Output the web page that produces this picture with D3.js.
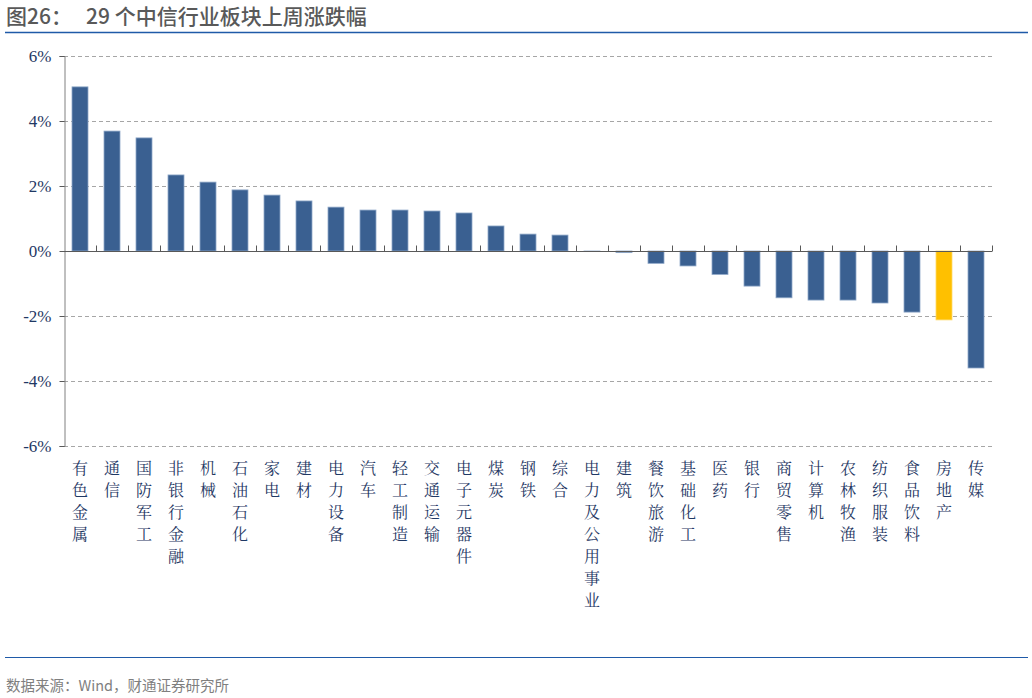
<!DOCTYPE html>
<html><head><meta charset="utf-8">
<script src="https://cdn.jsdelivr.net/npm/d3@7"></script>
<style>body{margin:0;background:#fff}svg{display:block}</style>
</head><body>
<script>
const categories = ["有色金属","通信","国防军工","非银行金融","机械","石油石化","家电","建材","电力设备","汽车","轻工制造","交通运输","电子元器件","煤炭","钢铁","综合","电力及公用事业","建筑","餐饮旅游","基础化工","医药","银行","商贸零售","计算机","农林牧渔","纺织服装","食品饮料","房地产","传媒"];
const values = [5.05,3.69,3.48,2.34,2.12,1.88,1.72,1.54,1.35,1.26,1.26,1.23,1.17,0.77,0.52,0.49,-0.01,-0.05,-0.38,-0.46,-0.72,-1.08,-1.44,-1.51,-1.51,-1.60,-1.88,-2.12,-3.60];
const highlight = ["房地产"];
const yTicks = [-6,-4,-2,0,2,4,6];
const title = "图26：   29 个中信行业板块上周涨跌幅";
const source = "数据来源：Wind，财通证券研究所";

(function(){
const W=1032,H=698;
const svg=d3.select("body").append("svg").attr("width",W).attr("height",H);
const pl=64,pr=992,pt=56,pb=446;
const x=d3.scaleBand().domain(categories).range([pl,pr]).paddingInner(0.5).paddingOuter(0.25);
const y=d3.scaleLinear().domain([-6,6]).range([pb,pt]);

svg.append("text").attr("x",6).attr("y",24).style("font-family","'Noto Sans CJK SC',sans-serif").attr("font-size",21).attr("font-weight",500).attr("fill","#595959").style("white-space","pre").text(title);
svg.append("line").attr("x1",5).attr("x2",1028).attr("y1",32.5).attr("y2",32.5).attr("stroke","#1F5AA8").attr("stroke-width",1.5);

svg.append("g").selectAll("line").data(yTicks.filter(d=>d!==0)).join("line")
 .attr("x1",pl).attr("x2",pr).attr("y1",d=>Math.round(y(d))+0.5).attr("y2",d=>Math.round(y(d))+0.5)
 .attr("stroke","#A6A6A6").attr("stroke-dasharray","4,3");

const ya=svg.append("g").attr("transform",`translate(${pl+0.5},0)`).call(d3.axisLeft(y).tickValues(yTicks).tickSize(5).tickFormat(d=>d+"%"));
ya.attr("font-family",null);
ya.select(".domain").attr("stroke","#808080");
ya.selectAll(".tick line").attr("stroke","#595959");
ya.selectAll("text").style("font-family","'Liberation Serif','DejaVu Serif',serif").style("font-size","17px").attr("fill","#1F3864").attr("dx",-5);

svg.append("g").selectAll("rect").data(categories).join("rect")
 .attr("x",d=>x(d)).attr("width",x.bandwidth())
 .attr("y",(d,i)=>y(Math.max(0,values[i]))).attr("height",(d,i)=>Math.abs(y(values[i])-y(0)))
 .attr("fill",d=>highlight.includes(d)?"#FFC000":"#3A6091")
 .attr("stroke",d=>highlight.includes(d)?"#FFD966":"#8FA8C8").attr("stroke-width",0.8);

const z=Math.round(y(0))+0.5;
svg.append("line").attr("x1",pl).attr("x2",pr).attr("y1",z).attr("y2",z).attr("stroke","#595959").attr("stroke-width",1.2);
const bounds=d3.range(1,categories.length+1).map(i=>pl+i*(pr-pl)/categories.length);
svg.append("g").selectAll("line").data(bounds).join("line")
 .attr("x1",d=>Math.round(d)+0.5).attr("x2",d=>Math.round(d)+0.5).attr("y1",z).attr("y2",z-6).attr("stroke","#595959");

const lg=svg.append("g");
categories.forEach(c=>{
  const cx=x(c)+x.bandwidth()/2;
  const t=lg.append("text").attr("text-anchor","middle")
   .style("font-family","'Noto Serif CJK SC','Noto Sans CJK SC',sans-serif").attr("font-size",16).attr("fill","#1F3864");
  [...c].forEach((ch,i)=>t.append("tspan").attr("x",cx).attr("y",474+i*22).text(ch));
});

svg.append("line").attr("x1",5).attr("x2",1028).attr("y1",657.5).attr("y2",657.5).attr("stroke","#1F5AA8").attr("stroke-width",1.2);
svg.append("text").attr("x",6).attr("y",691).style("font-family","'Noto Sans CJK SC',sans-serif").attr("font-size",14.5).attr("fill","#7F7F7F").text(source);
})();
</script>
</body></html>
